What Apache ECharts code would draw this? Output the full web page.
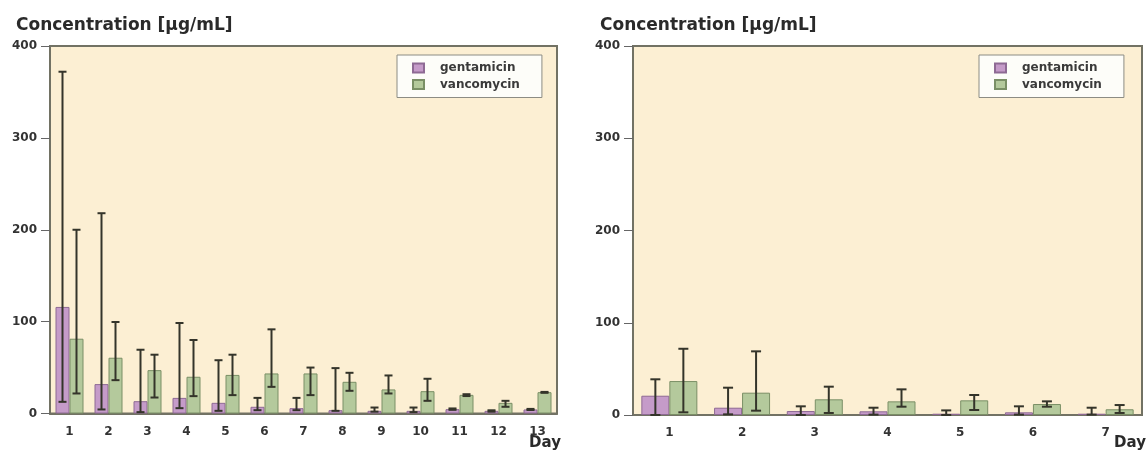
<!DOCTYPE html>
<html><head><meta charset="utf-8">
<script src="https://cdn.jsdelivr.net/npm/echarts@6/dist/echarts.min.js"></script>
<style>html,body{margin:0;padding:0;background:#fff;}#c{width:1148px;height:457px;}</style>
</head><body><div id="c"></div>
<script>
// ---- data ----
const seriesNames = ['gentamicin', 'vancomycin'];
const titleText = 'Concentration [µg/mL]';
const xAxisName = 'Day';
const yMin = 0, yMax = 400, yStep = 100;

// left panel: 13 days
const days13 = ['1','2','3','4','5','6','7','8','9','10','11','12','13'];
const gentMean13 = [116, 32, 13.4, 17, 11.6, 7.3, 5.8, 3.6, 2.9, 2.9, 4.7, 2.9, 4.4];
const gentLow13  = [12.7, 4.4, 1.5, 5.8, 2.9, 3.6, 3.6, 2.9, 2, 1.5, 4, 2, 3.8];
const gentHigh13 = [372, 218, 69.4, 98.5, 58, 17, 17, 49.4, 6.5, 6.5, 5.5, 3.5, 5];
const vancMean13 = [81.4, 60.7, 47.2, 40, 42, 43.6, 43.6, 34.5, 26.2, 24.3, 20.3, 11.6, 23.2];
const vancLow13  = [21.8, 36.3, 17.4, 18.9, 20, 29, 20, 24.7, 21.8, 13.8, 19, 7.3, 22.5];
const vancHigh13 = [200, 99.6, 64, 80, 64, 91.6, 50, 44.3, 41.4, 37.8, 21, 13.8, 23.5];

// right panel: 7 days
const days7 = ['1','2','3','4','5','6','7'];
const gentMean7 = [20.9, 7.9, 4.3, 4, 1.4, 2.9, 1.4];
const gentLow7  = [0, 0.7, 0, 0.4, 0, 0.4, 0.4];
const gentHigh7 = [38.7, 29.6, 9.4, 7.9, 5, 9.4, 7.9];
const vancMean7 = [36.8, 24.2, 17, 14.8, 15.9, 11.9, 6.2];
const vancLow7  = [2.9, 4.7, 2.2, 9, 5.4, 9, 2.2];
const vancHigh7 = [71.8, 69, 30.7, 27.8, 21.7, 14.8, 10.8];

// ---- styling ----
const FONT = 'DejaVu Sans';
const BG = '#fcefd3';
const FRAME = '#727264';
const GENT = {color: '#c59bc9', borderColor: '#8e6a94', borderWidth: 1};
const VANC = {color: '#b4c99c', borderColor: '#7a8f66', borderWidth: 1};
const ERR = '#34342a';

function errRender(sign, barW, capW) {
  return function (params, api) {
    const i = api.value(0);
    const lo = api.coord([i, api.value(1)]);
    const hi = api.coord([i, api.value(2)]);
    const x = lo[0] + sign * barW / 2;
    const st = {stroke: ERR, lineWidth: 2};
    return {type: 'group', children: [
      {type: 'line', shape: {x1: x, y1: hi[1], x2: x, y2: lo[1]}, style: st},
      {type: 'line', shape: {x1: x - capW / 2, y1: hi[1], x2: x + capW / 2, y2: hi[1]}, style: st},
      {type: 'line', shape: {x1: x - capW / 2, y1: lo[1], x2: x + capW / 2, y2: lo[1]}, style: st}
    ]};
  };
}

function xAxis(idx, data) {
  return {
    type: 'category', gridIndex: idx, data: data,
    axisLine: {lineStyle: {color: FRAME, width: 2}},
    axisTick: {show: false},
    axisLabel: {color: '#333', fontFamily: FONT, fontWeight: 'bold', fontSize: 12, margin: 12}
  };
}
function yAxis(idx) {
  return {
    type: 'value', gridIndex: idx, min: yMin, max: yMax, interval: yStep,
    axisLine: {show: true, lineStyle: {color: FRAME, width: 2}},
    axisTick: {show: true, length: 9, lineStyle: {color: '#666', width: 1}},
    splitLine: {show: false},
    axisLabel: {color: '#333', fontFamily: FONT, fontWeight: 'bold', fontSize: 12, margin: 13}
  };
}
function legend(left) {
  return {
    left: left, top: 55, orient: 'vertical',
    backgroundColor: '#fdfdf9', borderColor: '#8c8c84', borderWidth: 1,
    padding: [6, 22, 6, 15], itemGap: 2.5, itemWidth: 11, itemHeight: 9,
    icon: 'rect',
    textStyle: {fontFamily: FONT, fontWeight: 'bold', fontSize: 12, color: '#3a3a3a', lineHeight: 14, padding: [0, 0, 0, 11]},
    data: seriesNames, selectedMode: false
  };
}
function barSeries(name, xi, data, style, bw) {
  return {type: 'bar', name: name, xAxisIndex: xi, yAxisIndex: xi, data: data,
    barWidth: bw, barGap: '0%', itemStyle: style, z: 2, emphasis: {disabled: true}};
}
function errSeries(name, xi, lo, hi, sign, bw, cap) {
  return {type: 'custom', name: name + ' err', xAxisIndex: xi, yAxisIndex: xi,
    renderItem: errRender(sign, bw, cap), z: 5,
    encode: {x: 0, y: [1, 2]},
    data: lo.map((v, i) => [i, v, hi[i]])};
}

const chart = echarts.init(document.getElementById('c'), null, {renderer: 'canvas'});
chart.setOption({
  animation: false,
  backgroundColor: '#ffffff',
  title: [
    {text: titleText, left: 11, top: 12, textStyle: {fontFamily: FONT, fontWeight: 'bold', fontSize: 17, color: '#2a2a2a'}},
    {text: titleText, left: 595, top: 12, textStyle: {fontFamily: FONT, fontWeight: 'bold', fontSize: 17, color: '#2a2a2a'}}
  ],
  grid: [
    {left: 50, right: 1148 - 557, top: 46, bottom: 457 - 413.5, show: true, backgroundColor: BG, borderColor: FRAME, borderWidth: 2},
    {left: 633, right: 1148 - 1142, top: 46, bottom: 457 - 415, show: true, backgroundColor: BG, borderColor: FRAME, borderWidth: 2}
  ],
  xAxis: [xAxis(0, days13), xAxis(1, days7)],
  yAxis: [yAxis(0), yAxis(1)],
  legend: [legend(397), legend(979)],
  graphic: [
    {type: 'text', right: 1148 - 561, top: 436, style: {text: xAxisName, font: 'bold 15px "DejaVu Sans"', fill: '#2a2a2a'}},
    {type: 'text', right: 2, top: 436, style: {text: xAxisName, font: 'bold 15px "DejaVu Sans"', fill: '#2a2a2a'}}
  ],
  series: [
    barSeries(seriesNames[0], 0, gentMean13, GENT, 14),
    barSeries(seriesNames[1], 0, vancMean13, VANC, 14),
    errSeries(seriesNames[0], 0, gentLow13, gentHigh13, -1, 14, 8),
    errSeries(seriesNames[1], 0, vancLow13, vancHigh13, 1, 14, 8),
    barSeries(seriesNames[0], 1, gentMean7, GENT, 28),
    barSeries(seriesNames[1], 1, vancMean7, VANC, 28),
    errSeries(seriesNames[0], 1, gentLow7, gentHigh7, -1, 28, 10),
    errSeries(seriesNames[1], 1, vancLow7, vancHigh7, 1, 28, 10)
  ]
});
</script></body></html>
